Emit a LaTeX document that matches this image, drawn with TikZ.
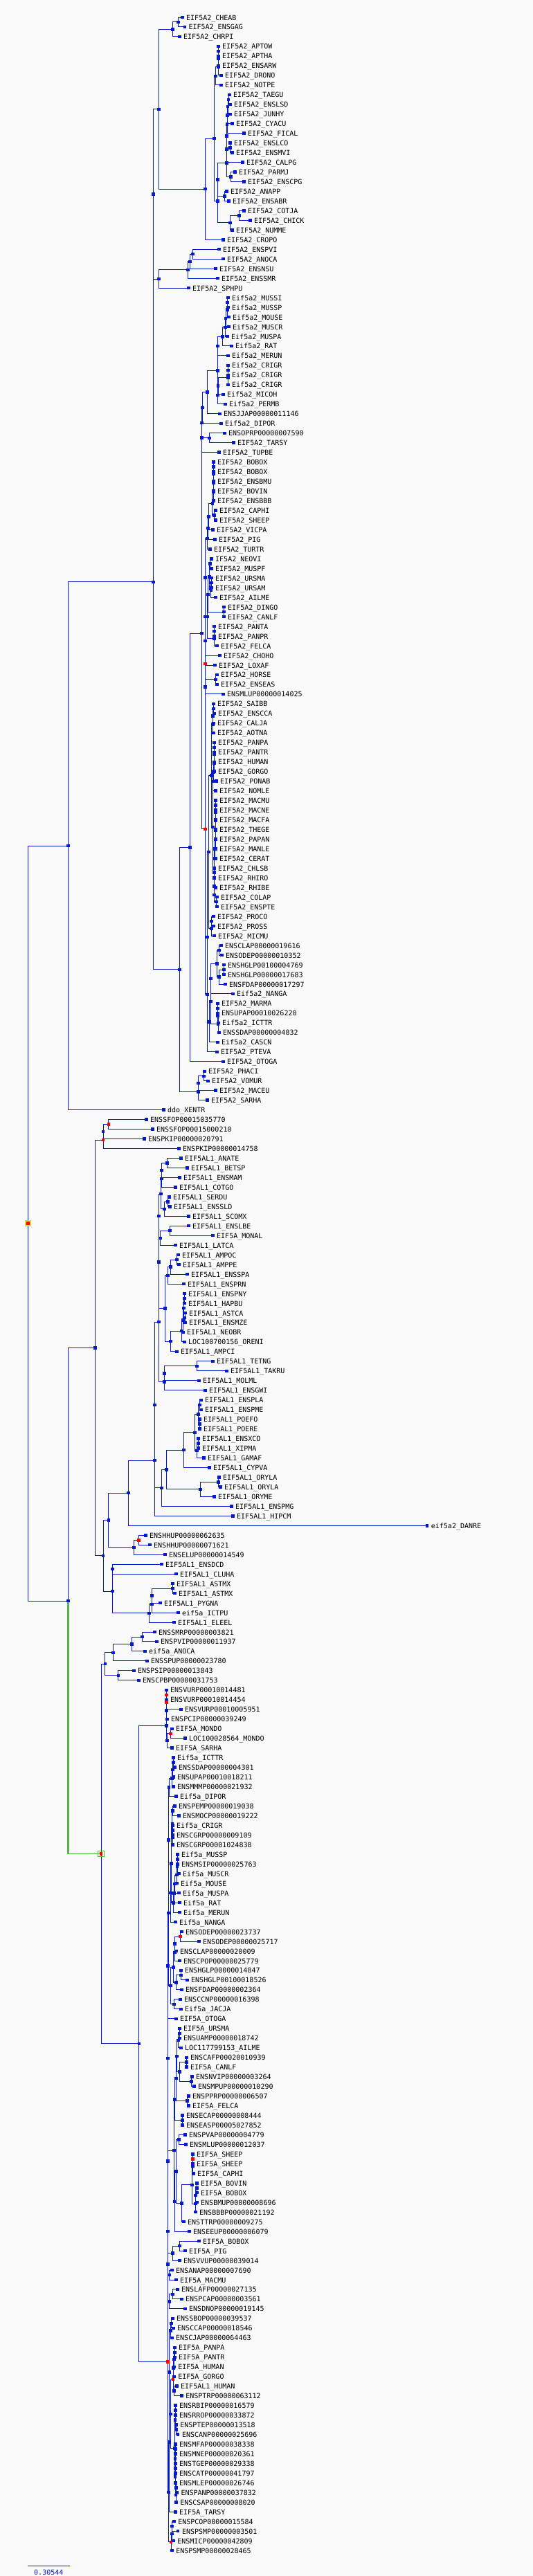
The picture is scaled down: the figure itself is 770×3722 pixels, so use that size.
\documentclass[tikz,border=0pt]{standalone}
\usepackage{fontspec}
\setmonofont{DejaVu Sans Mono}
\usetikzlibrary{calc}
\definecolor{treeblue}{RGB}{5,25,205}
\definecolor{dupred}{RGB}{255,0,0}
\definecolor{paper}{RGB}{250,250,250}
\definecolor{pickgreen}{RGB}{85,180,70}
\definecolor{rootgold}{RGB}{250,200,60}
\begin{document}
\begin{tikzpicture}[x=0.5pt,y=-0.5pt,
    branch/.style={draw=treeblue, line width=0.5pt},
    knot/.style={rectangle, fill=treeblue, inner sep=0pt, minimum size=2.2pt},
    dupknot/.style={knot, fill=dupred},
    taxon/.style={anchor=base west, inner sep=0pt, font=\fontsize{5pt}{6pt}\selectfont\ttfamily}]
    \useasboundingbox (0,0) rectangle (770,3722);
    \fill[paper] (0,0) rectangle (770,3722);

    % lists of the markers, drawn last
    \gdef\blueknots{r0}
    \gdef\redknots{r0}
    % leaf: name, x, row, text
    \def\leafat#1#2#3#4{%
        \coordinate (#1) at (#2,{25+13.97*#3});%
        \node[taxon] (#1-t) at ({#2+5.5},{29+13.97*#3}) {#4};%
        \xdef\blueknots{\blueknots,#1}}
    % inner node: name, x, children, list
    \def\nodeas#1#2#3#4{%
        \foreach \kid [count=\kn] in {#3} {\ifnum\kn=1 \xdef\kfirst{\kid}\fi \xdef\klast{\kid}}%
        \path let \p1=($(\kfirst)!0.5!(\klast)$), \p2=(#2,0) in coordinate (#1) at (\x2,\y1);%
        \foreach \kid in {#3} {\draw[branch] (#1) |- (\kid);}%
        \xdef#4{#4,#1}}
    \def\cladeat#1#2#3{\nodeas{#1}{#2}{#3}{\blueknots}}
    \def\dupat#1#2#3{\nodeas{#1}{#2}{#3}{\redknots}}

% EIF5A2, birds and reptiles
    \leafat{r0}{263.3}{0}{EIF5A2\_CHEAB}
    \leafat{r1}{266.7}{1}{EIF5A2\_ENSGAG}
    \leafat{r2}{259.3}{2}{EIF5A2\_CHRPI}
    \leafat{r3}{315.3}{3}{EIF5A2\_APTOW}
    \leafat{r4}{315.3}{4}{EIF5A2\_APTHA}
    \leafat{r5}{315.3}{5}{EIF5A2\_ENSARW}
    \leafat{r6}{319.3}{6}{EIF5A2\_DRONO}
    \leafat{r7}{319.3}{7}{EIF5A2\_NOTPE}
    \leafat{r8}{331.3}{8}{EIF5A2\_TAEGU}
    \leafat{r9}{332.3}{9}{EIF5A2\_ENSLSD}
    \leafat{r10}{332.3}{10}{EIF5A2\_JUNHY}
    \leafat{r11}{335.3}{11}{EIF5A2\_CYACU}
    \leafat{r12}{352.3}{12}{EIF5A2\_FICAL}
    \leafat{r13}{332.3}{13}{EIF5A2\_ENSLCO}
    \leafat{r14}{335.3}{14}{EIF5A2\_ENSMVI}
    \leafat{r15}{350.3}{15}{EIF5A2\_CALPG}
    \leafat{r16}{339.3}{16}{EIF5A2\_PARMJ}
    \leafat{r17}{352.3}{17}{EIF5A2\_ENSCPG}
    \leafat{r18}{327.3}{18}{EIF5A2\_ANAPP}
    \leafat{r19}{330.3}{19}{EIF5A2\_ENSABR}
    \leafat{r20}{352.3}{20}{EIF5A2\_COTJA}
    \leafat{r21}{361.3}{21}{EIF5A2\_CHICK}
    \leafat{r22}{335.3}{22}{EIF5A2\_NUMME}
    \leafat{r23}{322.3}{23}{EIF5A2\_CROPO}
    \leafat{r24}{316.3}{24}{EIF5A2\_ENSPVI}
    \leafat{r25}{322.3}{25}{EIF5A2\_ANOCA}
    \leafat{r26}{311.3}{26}{EIF5A2\_ENSNSU}
    \leafat{r27}{314.3}{27}{EIF5A2\_ENSSMR}
    \leafat{r28}{272.3}{28}{EIF5A2\_SPHPU}
    \cladeat{ch1}{257.3}{r0,r1}
    \cladeat{ch2}{249.3}{ch1,r2}
    \cladeat{ap1}{315.3}{r3,r4}
    \cladeat{ap2}{315.3}{ap1,r5}
    \cladeat{ap3}{315.3}{ap2,r6}
    \cladeat{ap4}{311.3}{ap3,r7}
    \cladeat{ps1}{330}{r8,r9}
    \cladeat{ps2}{329}{ps1,r10}
    \cladeat{ps3}{328.5}{ps2,r11}
    \cladeat{ps4}{328}{ps3,r12}
    \cladeat{ps5}{332.3}{r13,r14}
    \cladeat{ps6}{327.3}{ps4,ps5}
    \cladeat{ps7}{327.3}{ps6,r15}
    \cladeat{ps8}{333.3}{r16,r17}
    \cladeat{ps9}{327.3}{ps7,ps8}
    \cladeat{ga1}{324.3}{r18,r19}
    \cladeat{ga2}{314.3}{ps9,ga1}
    \cladeat{ga3}{345.3}{r20,r21}
    \cladeat{ga4}{332.3}{ga3,r22}
    \cladeat{ga5}{314.3}{ga2,ga4}
    \cladeat{av1}{309.3}{ap4,ga5}
    \cladeat{av2}{296.3}{av1,r23}
    \cladeat{av3}{229.3}{ch2,av2}
    \cladeat{sq1}{278.3}{r24,r25}
    \cladeat{sq2}{274.3}{sq1,r26}
    \cladeat{sq3}{271.3}{sq2,r27}
    \cladeat{sq4}{229.3}{sq3,r28}
    \cladeat{sa1}{221.3}{av3,sq4}

% EIF5A2, mammals
    \leafat{r29}{329.3}{29}{Eif5a2\_MUSSI}
    \leafat{r30}{329.3}{30}{Eif5a2\_MUSSP}
    \leafat{r31}{330.3}{31}{Eif5a2\_MOUSE}
    \leafat{r32}{330.3}{32}{Eif5a2\_MUSCR}
    \leafat{r33}{328.3}{33}{Eif5a2\_MUSPA}
    \leafat{r34}{334.3}{34}{Eif5a2\_RAT}
    \leafat{r35}{329.3}{35}{Eif5a2\_MERUN}
    \leafat{r36}{329.3}{36}{Eif5a2\_CRIGR}
    \leafat{r37}{329.3}{37}{Eif5a2\_CRIGR}
    \leafat{r38}{329.3}{38}{Eif5a2\_CRIGR}
    \leafat{r39}{322.3}{39}{Eif5a2\_MICOH}
    \leafat{r40}{325.3}{40}{Eif5a2\_PERMB}
    \leafat{r41}{317.3}{41}{ENSJJAP00000011146}
    \leafat{r42}{319.3}{42}{Eif5a2\_DIPOR}
    \leafat{r43}{324.3}{43}{ENSOPRP00000007590}
    \leafat{r44}{337.3}{44}{EIF5A2\_TARSY}
    \leafat{r45}{316.3}{45}{EIF5A2\_TUPBE}
    \leafat{r46}{308.3}{46}{EIF5A2\_BOBOX}
    \leafat{r47}{308.3}{47}{EIF5A2\_BOBOX}
    \leafat{r48}{308.3}{48}{EIF5A2\_ENSBMU}
    \leafat{r49}{308.3}{49}{EIF5A2\_BOVIN}
    \leafat{r50}{308.3}{50}{EIF5A2\_ENSBBB}
    \leafat{r51}{311.3}{51}{EIF5A2\_CAPHI}
    \leafat{r52}{311.3}{52}{EIF5A2\_SHEEP}
    \leafat{r53}{307.3}{53}{EIF5A2\_VICPA}
    \leafat{r54}{310.3}{54}{EIF5A2\_PIG}
    \leafat{r55}{303.3}{55}{EIF5A2\_TURTR}
    \leafat{r56}{305.3}{56}{IF5A2\_NEOVI}
    \leafat{r57}{305.3}{57}{EIF5A2\_MUSPF}
    \leafat{r58}{305.3}{58}{EIF5A2\_URSMA}
    \leafat{r59}{305.3}{59}{EIF5A2\_URSAM}
    \leafat{r60}{311.3}{60}{EIF5A2\_AILME}
    \leafat{r61}{323.3}{61}{EIF5A2\_DINGO}
    \leafat{r62}{323.3}{62}{EIF5A2\_CANLF}
    \leafat{r63}{309.3}{63}{EIF5A2\_PANTA}
    \leafat{r64}{309.3}{64}{EIF5A2\_PANPR}
    \leafat{r65}{313.3}{65}{EIF5A2\_FELCA}
    \leafat{r66}{317.3}{66}{EIF5A2\_CHOHO}
    \leafat{r67}{310.3}{67}{EIF5A2\_LOXAF}
    \leafat{r68}{313.3}{68}{EIF5A2\_HORSE}
    \leafat{r69}{313.3}{69}{EIF5A2\_ENSEAS}
    \leafat{r70}{322.3}{70}{ENSMLUP00000014025}
    \leafat{r71}{308.3}{71}{EIF5A2\_SAIBB}
    \leafat{r72}{309.3}{72}{EIF5A2\_ENSCCA}
    \leafat{r73}{308.3}{73}{EIF5A2\_CALJA}
    \leafat{r74}{308.3}{74}{EIF5A2\_AOTNA}
    \leafat{r75}{309.3}{75}{EIF5A2\_PANPA}
    \leafat{r76}{309.3}{76}{EIF5A2\_PANTR}
    \leafat{r77}{309.3}{77}{EIF5A2\_HUMAN}
    \leafat{r78}{309.3}{78}{EIF5A2\_GORGO}
    \leafat{r79}{312.3}{79}{EIF5A2\_PONAB}
    \leafat{r80}{311.3}{80}{EIF5A2\_NOMLE}
    \leafat{r81}{311.3}{81}{EIF5A2\_MACMU}
    \leafat{r82}{311.3}{82}{EIF5A2\_MACNE}
    \leafat{r83}{311.3}{83}{EIF5A2\_MACFA}
    \leafat{r84}{311.3}{84}{EIF5A2\_THEGE}
    \leafat{r85}{311.3}{85}{EIF5A2\_PAPAN}
    \leafat{r86}{311.3}{86}{EIF5A2\_MANLE}
    \leafat{r87}{311.3}{87}{EIF5A2\_CERAT}
    \leafat{r88}{309.3}{88}{EIF5A2\_CHLSB}
    \leafat{r89}{309.3}{89}{EIF5A2\_RHIRO}
    \leafat{r90}{311.3}{90}{EIF5A2\_RHIBE}
    \leafat{r91}{313.3}{91}{EIF5A2\_COLAP}
    \leafat{r92}{313.3}{92}{EIF5A2\_ENSPTE}
    \leafat{r93}{308.3}{93}{EIF5A2\_PROCO}
    \leafat{r94}{308.3}{94}{EIF5A2\_PROSS}
    \leafat{r95}{309.3}{95}{EIF5A2\_MICMU}
    \leafat{r96}{319.3}{96}{ENSCLAP00000019616}
    \leafat{r97}{320.3}{97}{ENSODEP00000010352}
    \leafat{r98}{323.3}{98}{ENSHGLP00100004769}
    \leafat{r99}{323.3}{99}{ENSHGLP00000017683}
    \leafat{r100}{325.3}{100}{ENSFDAP00000017297}
    \leafat{r101}{336.3}{101}{Eif5a2\_NANGA}
    \leafat{r102}{314.3}{102}{EIF5A2\_MARMA}
    \leafat{r103}{314.3}{103}{ENSUPAP00010026220}
    \leafat{r104}{315.3}{104}{Eif5a2\_ICTTR}
    \leafat{r105}{316.3}{105}{ENSSDAP00000004832}
    \leafat{r106}{314.3}{106}{Eif5a2\_CASCN}
    \leafat{r107}{313.3}{107}{EIF5A2\_PTEVA}
    \leafat{r108}{322.3}{108}{EIF5A2\_OTOGA}
    \leafat{r109}{295.3}{109}{EIF5A2\_PHACI}
    \leafat{r110}{300.3}{110}{EIF5A2\_VOMUR}
    \leafat{r111}{311.3}{111}{EIF5A2\_MACEU}
    \leafat{r112}{299.3}{112}{EIF5A2\_SARHA}
    \cladeat{mu1}{328.3}{r29,r30}
    \cladeat{mu2}{328.3}{mu1,r31}
    \cladeat{mu3}{326}{mu2,r32}
    \cladeat{mu4}{325.3}{mu3,r33}
    \cladeat{mu5}{321.3}{mu4,r34}
    \cladeat{mu6}{314.3}{mu5,r35}
    \cladeat{cr1}{329.3}{r36,r37}
    \cladeat{cr2}{329.3}{cr1,r38}
    \cladeat{cr3}{315}{cr2,r39}
    \cladeat{cr4}{314.3}{cr3,r40}
    \cladeat{mu7}{314.3}{mu6,cr4}
    \cladeat{mu8}{299.3}{mu7,r41}
    \cladeat{gl1}{292.3}{mu8,r42}
    \cladeat{gl2}{302.3}{r43,r44}
    \cladeat{gl3}{291.3}{gl1,gl2}
    \cladeat{gl4}{291.3}{gl3,r45}
    \cladeat{bo1}{308.3}{r46,r47}
    \cladeat{bo2}{308.3}{bo1,r48}
    \cladeat{bo3}{308.3}{bo2,r49}
    \cladeat{bo4}{308.3}{bo3,r50}
    \cladeat{bo5}{309.3}{r51,r52}
    \cladeat{bo6}{306.7}{bo4,bo5}
    \cladeat{bo7}{301.3}{bo6,r53}
    \cladeat{bo8}{300.3}{bo7,r54}
    \cladeat{bo9}{299.3}{bo8,r55}
    \cladeat{ca1}{303.3}{r56,r57}
    \cladeat{ca2}{305.3}{r58,r59}
    \cladeat{ca3}{304.7}{ca2,r60}
    \cladeat{ca4}{302.3}{ca1,ca3}
    \cladeat{ca5}{323.3}{r61,r62}
    \cladeat{ca6}{300.3}{ca4,ca5}
    \cladeat{fe1}{309.3}{r63,r64}
    \cladeat{fe2}{309.3}{fe1,r65}
    \cladeat{ca7}{299.3}{ca6,fe2}
    \cladeat{la1}{296.3}{bo9,ca7}
    \cladeat{la2}{296.3}{la1,r66}
    \cladeat{la3}{296.3}{la2,r67}
    \cladeat{eq1}{311.3}{r68,r69}
    \cladeat{eq2}{296.3}{eq1,r70}
    \dupat{la4}{296.3}{la3,eq2}
    \cladeat{nw1}{308.3}{r71,r72}
    \cladeat{nw2}{307.3}{nw1,r73}
    \cladeat{nw3}{307.3}{nw2,r74}
    \cladeat{hm1}{309.3}{r75,r76}
    \cladeat{hm2}{309.3}{hm1,r77}
    \cladeat{hm3}{309.3}{hm2,r78}
    \cladeat{hm4}{308.3}{hm3,r79}
    \cladeat{hm5}{307.3}{hm4,r80}
    \cladeat{cc1}{311.3}{r81,r82}
    \cladeat{cc2}{311.3}{cc1,r83}
    \cladeat{cc3}{311.3}{cc2,r84}
    \cladeat{cc4}{311.3}{cc3,r85}
    \cladeat{cc5}{311.3}{cc4,r86}
    \cladeat{cc6}{310.5}{cc5,r87}
    \cladeat{cc7}{309.3}{cc6,r88}
    \cladeat{co1}{312.3}{r91,r92}
    \cladeat{co2}{309.3}{r90,co1}
    \cladeat{co3}{309.3}{r89,co2}
    \cladeat{ow1}{309.3}{cc7,co3}
    \cladeat{pr1}{307.3}{hm5,ow1}
    \cladeat{pr2}{305.3}{nw3,pr1}
    \cladeat{st1}{305.3}{r93,r94}
    \cladeat{st2}{305.3}{st1,r95}
    \cladeat{pr3}{301.3}{pr2,st2}
    \cladeat{hy1}{316.3}{r96,r97}
    \cladeat{hy2}{323.3}{r98,r99}
    \cladeat{hy3}{316.3}{hy2,r100}
    \cladeat{hy4}{313.3}{hy1,hy3}
    \cladeat{hy5}{304.3}{hy4,r101}
    \cladeat{sc1}{314.3}{r102,r103}
    \cladeat{sc2}{314.3}{sc1,r104}
    \cladeat{sc3}{315}{sc2,r105}
    \cladeat{gr1}{304.3}{hy5,sc3}
    \cladeat{gr2}{302.3}{gr1,r106}
    \cladeat{eu1}{299.3}{pr3,gr2}
    \cladeat{eu2}{299.3}{eu1,r107}
    \dupat{eu3}{296.3}{la4,eu2}
    \cladeat{eu4}{291.3}{gl4,eu3}
    \cladeat{eu5}{274.3}{eu4,r108}
    \cladeat{ma1}{294.3}{r109,r110}
    \cladeat{ma2}{286.3}{ma1,r111}
    \cladeat{ma3}{286.3}{ma2,r112}
    \cladeat{mm1}{259.3}{eu5,ma3}
    \cladeat{a2}{221.3}{sa1,mm1}

% single leaves near the root
    \leafat{r113}{236.3}{113}{ddo\_XENTR}
    \leafat{r114}{211.3}{114}{ENSSFOP00015035770}
    \leafat{r115}{220.3}{115}{ENSSFOP00015000210}
    \leafat{r116}{208.3}{116}{ENSPKIP00000020791}
    \leafat{r117}{258.3}{117}{ENSPKIP00000014758}

% EIF5AL1, teleosts
    \leafat{r118}{261.3}{118}{EIF5AL1\_ANATE}
    \leafat{r119}{270.3}{119}{EIF5AL1\_BETSP}
    \leafat{r120}{259.3}{120}{EIF5AL1\_ENSMAM}
    \leafat{r121}{253.3}{121}{EIF5AL1\_COTGO}
    \leafat{r122}{244.3}{122}{EIF5AL1\_SERDU}
    \leafat{r123}{245.3}{123}{EIF5AL1\_ENSSLD}
    \leafat{r124}{272.3}{124}{EIF5AL1\_SCOMX}
    \leafat{r125}{272.3}{125}{EIF5AL1\_ENSLBE}
    \leafat{r126}{307.3}{126}{EIF5A\_MONAL}
    \leafat{r127}{253.3}{127}{EIF5AL1\_LATCA}
    \leafat{r128}{257.3}{128}{EIF5AL1\_AMPOC}
    \leafat{r129}{258.3}{129}{EIF5AL1\_AMPPE}
    \leafat{r130}{270.3}{130}{EIF5AL1\_ENSSPA}
    \leafat{r131}{265.3}{131}{EIF5AL1\_ENSPRN}
    \leafat{r132}{266.3}{132}{EIF5AL1\_ENSPNY}
    \leafat{r133}{266.3}{133}{EIF5AL1\_HAPBU}
    \leafat{r134}{267.3}{134}{EIF5AL1\_ASTCA}
    \leafat{r135}{267.3}{135}{EIF5AL1\_ENSMZE}
    \leafat{r136}{264.3}{136}{EIF5AL1\_NEOBR}
    \leafat{r137}{266.3}{137}{LOC100700156\_ORENI}
    \leafat{r138}{255.3}{138}{EIF5AL1\_AMPCI}
    \leafat{r139}{307.3}{139}{EIF5AL1\_TETNG}
    \leafat{r140}{327.3}{140}{EIF5AL1\_TAKRU}
    \leafat{r141}{287.3}{141}{EIF5AL1\_MOLML}
    \leafat{r142}{296.3}{142}{EIF5AL1\_ENSGWI}
    \leafat{r143}{290.3}{143}{EIF5AL1\_ENSPLA}
    \leafat{r144}{290.3}{144}{EIF5AL1\_ENSPME}
    \leafat{r145}{288.3}{145}{EIF5AL1\_POEFO}
    \leafat{r146}{288.3}{146}{EIF5AL1\_POERE}
    \leafat{r147}{286.3}{147}{EIF5AL1\_ENSXCO}
    \leafat{r148}{286.3}{148}{EIF5AL1\_XIPMA}
    \leafat{r149}{294.3}{149}{EIF5AL1\_GAMAF}
    \leafat{r150}{302.3}{150}{EIF5AL1\_CYPVA}
    \leafat{r151}{316.3}{151}{EIF5AL1\_ORYLA}
    \leafat{r152}{318.3}{152}{EIF5AL1\_ORYLA}
    \leafat{r153}{309.3}{153}{EIF5AL1\_ORYME}
    \leafat{r154}{334.3}{154}{EIF5AL1\_ENSPMG}
    \leafat{r155}{336.3}{155}{EIF5AL1\_HIPCM}
    \leafat{r156}{617}{156}{eif5a2\_DANRE}
    \cladeat{te1}{241.3}{r118,r119}
    \cladeat{te2}{233.3}{te1,r120}
    \cladeat{te3}{233.3}{te2,r121}
    \cladeat{te4}{242.3}{r122,r123}
    \cladeat{te5}{237.3}{te4,r124}
    \cladeat{te6}{232.3}{te3,te5}
    \cladeat{te7}{245.3}{r125,r126}
    \cladeat{te8}{231.3}{te7,r127}
    \cladeat{te9}{229.3}{te6,te8}
    \cladeat{te10}{255.3}{r128,r129}
    \cladeat{te11}{246.3}{te10,r130}
    \cladeat{te12}{242.3}{te11,r131}
    \cladeat{ci1}{266.3}{r132,r133}
    \cladeat{ci2}{267}{r134,r135}
    \cladeat{ci3}{265.3}{ci1,ci2}
    \cladeat{ci4}{264.3}{ci3,r136}
    \cladeat{ci5}{262.3}{ci4,r137}
    \cladeat{ci6}{246.3}{ci5,r138}
    \cladeat{te13}{238.3}{te12,ci6}
    \cladeat{te14}{229.3}{te9,te13}
    \cladeat{tt1}{284.3}{r139,r140}
    \cladeat{tt2}{237.3}{tt1,r141}
    \cladeat{tt3}{237.3}{tt2,r142}
    \cladeat{te15}{229.3}{te14,tt3}
    \cladeat{po1}{288.3}{r143,r144}
    \cladeat{po2}{288.3}{r145,r146}
    \cladeat{po3}{286.3}{po1,po2}
    \cladeat{xi1}{286.3}{r147,r148}
    \cladeat{xi2}{284.3}{xi1,r149}
    \cladeat{cy1}{281.3}{po3,xi2}
    \cladeat{cy2}{265.3}{cy1,r150}
    \cladeat{or1}{315.3}{r151,r152}
    \cladeat{or2}{289.3}{or1,r153}
    \cladeat{at1}{240.3}{cy2,or2}
    \cladeat{at2}{233.3}{at1,r154}
    \cladeat{te16}{223.3}{te15,at2}
    \cladeat{te17}{223.3}{te16,r155}
    \cladeat{te18}{185.3}{te17,r156}

% EIF5A, fishes and sauropsids
    \leafat{r157}{210.3}{157}{ENSHHUP00000062635}
    \leafat{r158}{216.3}{158}{ENSHHUP00000071621}
    \leafat{r159}{238.3}{159}{ENSELUP00000014549}
    \leafat{r160}{233.3}{160}{EIF5AL1\_ENSDCD}
    \leafat{r161}{254.3}{161}{EIF5AL1\_CLUHA}
    \leafat{r162}{249.3}{162}{EIF5AL1\_ASTMX}
    \leafat{r163}{252.3}{163}{EIF5AL1\_ASTMX}
    \leafat{r164}{231.3}{164}{EIF5AL1\_PYGNA}
    \leafat{r165}{257.3}{165}{eif5a\_ICTPU}
    \leafat{r166}{251.3}{166}{EIF5AL1\_ELEEL}
    \leafat{r167}{223.3}{167}{ENSSMRP00000003821}
    \leafat{r168}{226.3}{168}{ENSPVIP00000011937}
    \leafat{r169}{209.3}{169}{eif5a\_ANOCA}
    \leafat{r170}{212.3}{170}{ENSSPUP00000023780}
    \leafat{r171}{193.3}{171}{ENSPSIP00000013843}
    \leafat{r172}{200.3}{172}{ENSCPBP00000031753}
    \leafat{r173}{240.3}{173}{ENSVURP00010014481}
    \leafat{r174}{240.3}{174}{ENSVURP00010014454}
    \leafat{r175}{261.3}{175}{ENSVURP00010005951}
    \leafat{r176}{241.3}{176}{ENSPCIP00000039249}
    \leafat{r177}{248.3}{177}{EIF5A\_MONDO}
    \leafat{r178}{267.3}{178}{LOC100028564\_MONDO}
    \leafat{r179}{248.3}{179}{EIF5A\_SARHA}
    \dupat{hh1}{200.3}{r157,r158}
    \cladeat{hh2}{193.3}{hh1,r159}
    \cladeat{ox1}{249.3}{r162,r163}
    \cladeat{ox2}{219.3}{ox1,r164}
    \cladeat{ox3}{219.3}{ox2,r165}
    \cladeat{ox4}{215.3}{ox3,r166}
    \cladeat{rp1}{205.3}{r167,r168}
    \cladeat{rp2}{190.3}{rp1,r169}
    \dupat{vu1}{240.3}{r173,r174}
    \dupat{vu2}{240.3}{vu1,r175}
    \cladeat{vu3}{240.3}{vu2,r176}
    \dupat{mo1}{246.3}{r177,r178}
    \cladeat{mo2}{241.3}{mo1,r179}
    \cladeat{vu4}{240.3}{vu3,mo2}

% EIF5A, placentals
    \leafat{r180}{250.3}{180}{Eif5a\_ICTTR}
    \leafat{r181}{252.3}{181}{ENSSDAP00000004301}
    \leafat{r182}{250.3}{182}{ENSUPAP00010018211}
    \leafat{r183}{250.3}{183}{ENSMMMP00000021932}
    \leafat{r184}{254.3}{184}{Eif5a\_DIPOR}
    \leafat{r185}{252.3}{185}{ENSPEMP00000019038}
    \leafat{r186}{258.3}{186}{ENSMOCP00000019222}
    \leafat{r187}{249.3}{187}{Eif5a\_CRIGR}
    \leafat{r188}{249.3}{188}{ENSCGRP00000009109}
    \leafat{r189}{249.3}{189}{ENSCGRP00001024838}
    \leafat{r190}{256.3}{190}{Eif5a\_MUSSP}
    \leafat{r191}{256.3}{191}{ENSMSIP00000025763}
    \leafat{r192}{258.3}{192}{Eif5a\_MUSCR}
    \leafat{r193}{255.3}{193}{Eif5a\_MOUSE}
    \leafat{r194}{258.3}{194}{Eif5a\_MUSPA}
    \leafat{r195}{259.3}{195}{Eif5a\_RAT}
    \leafat{r196}{259.3}{196}{Eif5a\_MERUN}
    \leafat{r197}{253.3}{197}{Eif5a\_NANGA}
    \leafat{r198}{262.3}{198}{ENSODEP00000023737}
    \leafat{r199}{287.3}{199}{ENSODEP00000025717}
    \leafat{r200}{254.3}{200}{ENSCLAP00000020009}
    \leafat{r201}{259.3}{201}{ENSCPOP00000025779}
    \leafat{r202}{261.3}{202}{ENSHGLP00000014847}
    \leafat{r203}{270.3}{203}{ENSHGLP00100018526}
    \leafat{r204}{262.3}{204}{ENSFDAP00000002364}
    \leafat{r205}{260.3}{205}{ENSCCNP00000016398}
    \leafat{r206}{261.3}{206}{Eif5a\_JACJA}
    \leafat{r207}{254.3}{207}{EIF5A\_OTOGA}
    \leafat{r208}{259.3}{208}{EIF5A\_URSMA}
    \leafat{r209}{259.3}{209}{ENSUAMP00000018742}
    \leafat{r210}{261.3}{210}{LOC117799153\_AILME}
    \leafat{r211}{269.3}{211}{ENSCAFP00020010939}
    \leafat{r212}{269.3}{212}{EIF5A\_CANLF}
    \leafat{r213}{277.3}{213}{ENSNVIP00000003264}
    \leafat{r214}{280.3}{214}{ENSMPUP00000010290}
    \leafat{r215}{272.3}{215}{ENSPPRP00000006507}
    \leafat{r216}{272.3}{216}{EIF5A\_FELCA}
    \leafat{r217}{263.3}{217}{ENSECAP00000008444}
    \leafat{r218}{263.3}{218}{ENSEASP00005027852}
    \leafat{r219}{267.3}{219}{ENSPVAP00000004779}
    \leafat{r220}{268.3}{220}{ENSMLUP00000012037}
    \leafat{r221}{278.3}{221}{EIF5A\_SHEEP}
    \leafat{r222}{278.3}{222}{EIF5A\_SHEEP}
    \leafat{r223}{279.3}{223}{EIF5A\_CAPHI}
    \leafat{r224}{284.3}{224}{EIF5A\_BOVIN}
    \leafat{r225}{284.3}{225}{EIF5A\_BOBOX}
    \leafat{r226}{284.3}{226}{ENSBMUP00000008696}
    \leafat{r227}{282.3}{227}{ENSBBBP00000021192}
    \leafat{r228}{265.3}{228}{ENSTTRP00000009275}
    \leafat{r229}{273.3}{229}{ENSEEUP00000006079}
    \leafat{r230}{287.3}{230}{EIF5A\_BOBOX}
    \leafat{r231}{267.3}{231}{EIF5A\_PIG}
    \leafat{r232}{259.3}{232}{ENSVVUP00000039014}
    \leafat{r233}{248.3}{233}{ENSANAP00000007690}
    \leafat{r234}{254.3}{234}{EIF5A\_MACMU}
    \leafat{r235}{256.3}{235}{ENSLAFP00000027135}
    \leafat{r236}{262.3}{236}{ENSPCAP00000003561}
    \leafat{r237}{267.3}{237}{ENSDNOP00000019145}
    \leafat{r238}{249.3}{238}{ENSSBOP00000039537}
    \leafat{r239}{250.3}{239}{ENSCCAP00000018546}
    \leafat{r240}{248.3}{240}{ENSCJAP00000064463}
    \leafat{r241}{252.3}{241}{EIF5A\_PANPA}
    \leafat{r242}{252.3}{242}{EIF5A\_PANTR}
    \leafat{r243}{251.4}{243}{EIF5A\_HUMAN}
    \leafat{r244}{251.4}{244}{EIF5A\_GORGO}
    \leafat{r245}{255.3}{245}{EIF5AL1\_HUMAN}
    \leafat{r246}{262.5}{246}{ENSPTRP00000063112}
    \leafat{r247}{253.3}{247}{ENSRBIP00000016579}
    \leafat{r248}{253.3}{248}{ENSRROP00000033872}
    \leafat{r249}{254.5}{249}{ENSPTEP00000013518}
    \leafat{r250}{257.2}{250}{ENSCANP00000025696}
    \leafat{r251}{253.3}{251}{ENSMFAP00000038338}
    \leafat{r252}{253.3}{252}{ENSMNEP00000020361}
    \leafat{r253}{253.3}{253}{ENSTGEP00000029338}
    \leafat{r254}{253.3}{254}{ENSCATP00000041797}
    \leafat{r255}{253.3}{255}{ENSMLEP00000026746}
    \leafat{r256}{255.6}{256}{ENSPANP00000037832}
    \leafat{r257}{254.5}{257}{ENSCSAP00000008020}
    \leafat{r258}{253.3}{258}{EIF5A\_TARSY}
    \leafat{r259}{251.4}{259}{ENSPCOP00000015584}
    \leafat{r260}{257.2}{260}{ENSPSMP00000003501}
    \leafat{r261}{250.5}{261}{ENSMICP00000042809}
    \leafat{r262}{248.4}{262}{ENSPSMP00000028465}
    \cladeat{sr1}{250.3}{r180,r181}
    \cladeat{sr2}{249.3}{sr1,r182}
    \cladeat{sr3}{248.3}{sr2,r183}
    \cladeat{sr4}{244}{sr3,r184}
    \cladeat{cg1}{249.3}{r185,r186}
    \cladeat{cg2}{249.3}{r187,r188}
    \cladeat{cg3}{249.3}{cg2,r189}
    \cladeat{cg4}{248.7}{cg1,cg3}
    \cladeat{ms1}{256.3}{r190,r191}
    \cladeat{ms2}{256}{ms1,r192}
    \cladeat{ms3}{255.3}{ms2,r193}
    \cladeat{ms4}{252.3}{ms3,r194}
    \cladeat{ms5}{251.3}{ms4,r195}
    \cladeat{ms6}{250.3}{ms5,r196}
    \cladeat{mr1}{247.3}{cg4,ms6}
    \cladeat{mr2}{246.3}{mr1,r197}
    \cladeat{ro1}{243.3}{sr4,mr2}
    \dupat{hs1}{260.3}{r198,r199}
    \cladeat{hs2}{252.3}{hs1,r200}
    \cladeat{hs3}{252.3}{hs2,r201}
    \cladeat{hs4}{261.3}{r202,r203}
    \cladeat{hs5}{254.3}{hs4,r204}
    \cladeat{hs6}{250.3}{hs3,hs5}
    \cladeat{hs7}{251.3}{r205,r206}
    \cladeat{hs8}{246.3}{hs6,hs7}
    \cladeat{ro2}{243.3}{ro1,hs8}
    \cladeat{eg1}{242.3}{ro2,r207}
    \cladeat{cn1}{259.3}{r208,r209}
    \cladeat{cn2}{257.3}{cn1,r210}
    \cladeat{cn3}{269.3}{r211,r212}
    \cladeat{cn4}{276.3}{r213,r214}
    \cladeat{cn5}{259.3}{cn3,cn4}
    \cladeat{cn6}{255.3}{cn2,cn5}
    \cladeat{fl1}{270.3}{r215,r216}
    \cladeat{cn7}{254.3}{cn6,fl1}
    \cladeat{pe1}{263.3}{r217,r218}
    \cladeat{lr1}{252.3}{cn7,pe1}
    \cladeat{bt1}{258.3}{r219,r220}
    \dupat{ov1}{278.3}{r221,r222}
    \cladeat{ov2}{278.3}{ov1,r223}
    \cladeat{bv1}{284.3}{r224,r225}
    \cladeat{bv2}{282.3}{bv1,r226}
    \cladeat{bv3}{282.3}{bv2,r227}
    \cladeat{bv4}{277.3}{ov2,bv3}
    \cladeat{ct1}{262.3}{bv4,r228}
    \cladeat{ct2}{254.3}{bt1,ct1}
    \cladeat{ct3}{252.3}{ct2,r229}
    \cladeat{lr2}{251.3}{lr1,ct3}
    \cladeat{pg1}{259.3}{r230,r231}
    \cladeat{pg2}{249.3}{pg1,r232}
    \cladeat{an1}{244.7}{r233,r234}
    \cladeat{pg3}{242.3}{pg2,an1}
    \cladeat{af1}{249.3}{r235,r236}
    \cladeat{af2}{244.7}{af1,r237}
    \cladeat{eua}{242.3}{eg1,lr2}
    \cladeat{eub}{242.3}{eua,pg3}
    \cladeat{euc}{242.3}{eub,af2}
    \cladeat{nm1}{247.3}{r238,r239}
    \cladeat{nm2}{246.3}{nm1,r240}
    \cladeat{hp1}{252.3}{r241,r242}
    \cladeat{hp2}{251.3}{hp1,r243}
    \cladeat{hp3}{250.5}{hp2,r244}
    \cladeat{al1}{251.4}{r245,r246}
    \dupat{hp4}{250}{hp3,al1}
    \cladeat{owa}{253.3}{r247,r248}
    \cladeat{owb}{254.5}{r249,r250}
    \cladeat{owc}{253}{owa,owb}
    \cladeat{owd}{253.3}{r251,r252}
    \cladeat{owe}{253.3}{r253,r254}
    \cladeat{owf}{253}{owd,owe}
    \cladeat{owg}{254.5}{r255,r256}
    \cladeat{owh}{254}{owg,r257}
    \cladeat{owi}{253}{owf,owh}
    \cladeat{owj}{252.6}{owc,owi}
    \cladeat{cat1}{246.8}{hp4,owj}
    \cladeat{cat2}{244.5}{nm2,cat1}
    \cladeat{cat3}{244.5}{cat2,r258}
    \cladeat{sp1}{248.4}{r259,r260}
    \cladeat{sp2}{248.4}{sp1,r261}
    \dupat{sp3}{247.2}{sp2,r262}
    \cladeat{pm1}{243.4}{cat3,sp3}
    \dupat{eud}{242.3}{euc,pm1}
    \cladeat{tz1}{200.7}{vu4,eud}

% deep nodes
    \dupat{sf1}{156.7}{r114,r115}
    \cladeat{sf2}{149}{sf1,r116}
    \dupat{pk1}{149}{sf2,r117}
    \cladeat{fa1}{156.7}{te18,hh2}
    \cladeat{fa2}{162.3}{r160,r161}
    \cladeat{fa3}{162.3}{fa2,ox4}
    \cladeat{fa4}{149}{fa1,fa3}
    \cladeat{dp1}{137.3}{pk1,fa4}
    \cladeat{spa}{163.3}{rp2,r170}
    \cladeat{spb}{170.7}{r171,r172}
    \cladeat{spc}{151.7}{spa,spb}
    \dupat{g1}{146}{spc,tz1}
    \cladeat{n98}{98.3}{dp1,g1}
    \cladeat{xn1}{98.3}{a2,r113}
    \dupat{root}{40.3}{xn1,n98}

% picked branch and root
    \draw[pickgreen, line width=1.5pt] (n98) -- (n98 |- g1);
    \draw[pickgreen, line width=0.5pt] (n98 |- g1) -- (g1);
    \node[draw=pickgreen, line width=0.5pt, inner sep=0pt, minimum width=4.4pt, minimum height=4pt] (g1-box) at (g1) {};
    \node[fill=rootgold, inner sep=0pt, minimum width=4.6pt, minimum height=4.4pt] (root-box) at (root) {};

% markers
    \foreach \nm in \blueknots {\node[knot] (\nm-k) at (\nm) {};}
    \foreach \nm in \redknots {\node[dupknot] (\nm-k) at (\nm) {};}
    \node[knot] (r0-k) at (r0) {};

% scale bar
    \coordinate (bar-l) at (40,3707.5);
    \coordinate (bar-r) at (100.6,3707.5);
    \draw[treeblue, line width=0.9pt] (bar-l) -- (bar-r);
    \node[taxon, anchor=base, text=treeblue] (bar-t) at (70.3,3720) {0.30544};
\end{tikzpicture}
\end{document}
